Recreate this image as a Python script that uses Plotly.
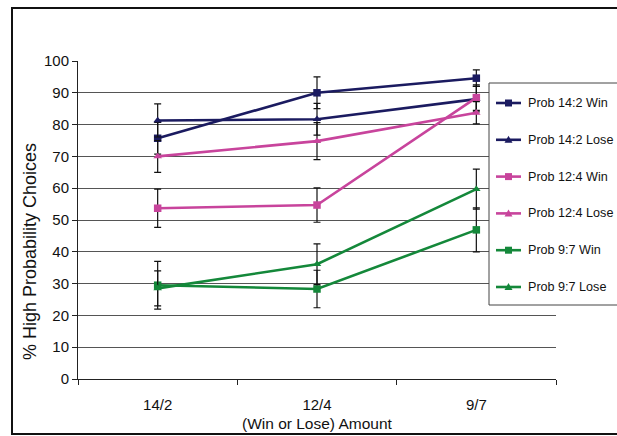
import plotly.graph_objects as go

categories = ["14/2", "12/4", "9/7"]

series_names = ["Prob 14:2 Win", "Prob 14:2 Lose", "Prob 12:4 Win",
                "Prob 12:4 Lose", "Prob 9:7 Win", "Prob 9:7 Lose"]

win_14_2 = [75.7, 90.0, 94.6]
lose_14_2 = [81.3, 81.7, 88.0]
win_12_4 = [53.7, 54.7, 88.5]
lose_12_4 = [70.0, 74.8, 83.7]
win_9_7 = [29.5, 28.3, 46.9]
lose_9_7 = [28.5, 36.1, 59.7]

err_win_14_2 = [5.0, 5.0, 2.6]
err_lose_14_2 = [5.2, 5.0, 4.0]
err_win_12_4 = [6.0, 5.4, 4.0]
err_lose_12_4 = [5.0, 5.8, 3.5]
err_win_9_7 = [7.5, 5.9, 6.9]
err_lose_9_7 = [5.5, 6.4, 6.3]

values = [win_14_2, lose_14_2, win_12_4, lose_12_4, win_9_7, lose_9_7]
errors = [err_win_14_2, err_lose_14_2, err_win_12_4, err_lose_12_4, err_win_9_7, err_lose_9_7]

NAVY = "#1b1b60"
PINK = "#c8449c"
GREEN = "#14883a"
colors = [NAVY, NAVY, PINK, PINK, GREEN, GREEN]
symbols = ["square", "triangle-up", "square", "triangle-up", "square", "triangle-up"]

W, H = 617, 436
L, R, T, B = 78, 61, 61, 57
pw, ph = W - L - R, H - T - B


def px_x(x):
    return (x - L) / pw


def px_y(y):
    return (H - B - y) / ph


fig = go.Figure()
for name, v, e, c, s in zip(series_names, values, errors, colors, symbols):
    fig.add_trace(go.Scatter(
        x=categories, y=v, name=name, mode="lines+markers",
        line=dict(color=c, width=2.6),
        marker=dict(symbol=s, size=7.5, color=c),
        error_y=dict(type="data", array=e, visible=True, color="#111111",
                     thickness=1.2, width=3.5),
        showlegend=False,
    ))

# Legend drawn as a boxed key (overflowing the right edge like the original)
shapes = [
    dict(type="rect", xref="paper", yref="paper",
         x0=px_x(12), x1=px_x(660), y0=px_y(434), y1=px_y(8),
         line=dict(color="#111111", width=2), layer="below"),
    dict(type="rect", xref="paper", yref="paper",
         x0=px_x(489), x1=px_x(680), y0=px_y(305), y1=px_y(83),
         line=dict(color="#444444", width=1), fillcolor="white", layer="above"),
]
annotations = []
y0_leg, dy_leg = 103, 36.8
for i, (name, c, s) in enumerate(zip(series_names, colors, symbols)):
    yc = y0_leg + i * dy_leg
    shapes.append(dict(type="line", xref="paper", yref="paper",
                       x0=px_x(496), x1=px_x(521), y0=px_y(yc), y1=px_y(yc),
                       line=dict(color=c, width=2.6), layer="above"))
    if s == "square":
        shapes.append(dict(type="rect", xref="paper", yref="paper",
                           x0=px_x(505), x1=px_x(512), y0=px_y(yc + 3.5), y1=px_y(yc - 3.5),
                           line=dict(color=c, width=0), fillcolor=c, layer="above"))
    else:
        path = "M {} {} L {} {} L {} {} Z".format(
            px_x(504.5), px_y(yc + 3), px_x(512.5), px_y(yc + 3), px_x(508.5), px_y(yc - 4))
        shapes.append(dict(type="path", xref="paper", yref="paper", path=path,
                           line=dict(color=c, width=0), fillcolor=c, layer="above"))
    annotations.append(dict(text=name, xref="paper", yref="paper",
                            x=px_x(526), y=px_y(yc), xanchor="left", yanchor="middle",
                            showarrow=False, font=dict(size=12.6, color="#111111")))

annotations += [
    dict(text="% High Probability Choices", xref="paper", yref="paper",
         x=px_x(30), y=px_y(252), textangle=-90, showarrow=False,
         font=dict(size=18), xanchor="center", yanchor="middle"),
    dict(text="(Win or Lose) Amount", xref="paper", yref="paper",
         x=0.5, y=px_y(423), showarrow=False, font=dict(size=15.5),
         xanchor="center", yanchor="middle"),
]

fig.update_layout(
    width=W, height=H,
    margin=dict(l=L, r=R, t=T, b=B),
    paper_bgcolor="white", plot_bgcolor="white",
    font=dict(family="Liberation Sans, Arial, sans-serif", color="#111111"),
    showlegend=False,
    xaxis=dict(type="category", range=[-0.5, 2.5], showgrid=False,
               showline=True, linecolor="#222222", linewidth=1,
               ticks="outside", tickson="boundaries", ticklen=5,
               tickcolor="#222222", tickfont=dict(size=15),
               ticklabelstandoff=12, fixedrange=True),
    yaxis=dict(range=[0, 100], dtick=10, showgrid=True, gridcolor="#555555",
               gridwidth=1, showline=True, linecolor="#222222", linewidth=1,
               ticks="outside", ticklen=5, tickcolor="#222222",
               tickfont=dict(size=15), zeroline=False),
    annotations=annotations,
    shapes=shapes,
)

fig.write_html("out.html")
